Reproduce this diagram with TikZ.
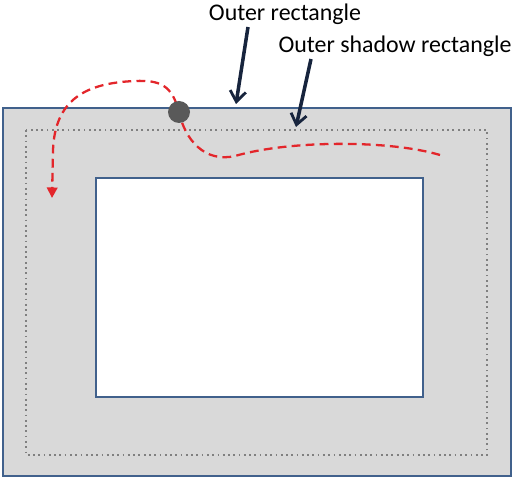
\documentclass[tikz,border=0pt]{standalone}
\usepackage{fontspec}
\setmainfont{Carlito}
\usepackage{tikz}
\usepackage{xcolor}
\usetikzlibrary{arrows.meta}
\definecolor{frame-blue}{HTML}{41618C}
\definecolor{area-gray}{HTML}{D9D9D9}
\definecolor{arrow-navy}{HTML}{17243D}
\definecolor{path-red}{HTML}{E3262B}
\tikzset{
    outer-rect/.style = {draw=frame-blue, fill=area-gray, line width=1.2pt},
    inner-rect/.style = {draw=frame-blue, fill=white, line width=1.2pt},
    shadow-rect/.style = {draw=gray, dotted, line width=1pt},
    label-text/.style = {font=\fontsize{13.6}{15}\selectfont, inner sep=1pt},
    pointer-arrow/.style = {draw=arrow-navy, line width=2pt, -{Straight Barb[length=6pt, width=9pt, line width=1.6pt]}},
    walk-path/.style = {draw=path-red, dash pattern=on 5pt off 3pt, line width=1.3pt, -{Triangle[length=6pt, width=6pt]}},
}

\begin{document}
\begin{tikzpicture}[x={(0.02cm,0)}, y={(0,-0.02cm)}]
\useasboundingbox (0,0) rectangle (514,479);
\draw[outer-rect] (3,108) rectangle (511,476);
\draw[shadow-rect] (26,130) rectangle (487,455);
\draw[inner-rect] (96,178) rectangle (423,397);
\coordinate (outer-top) at (236,104);
\coordinate (shadow-top) at (296,127);
\node[label-text] (outer-label) at (285,14) {Outer rectangle};
\node[label-text] (shadow-label) at (395,46) {Outer shadow rectangle};
\draw[pointer-arrow] (248,27) -- (outer-top);
\draw[pointer-arrow] (311,59) -- (shadow-top);
\coordinate (walk-start) at (440,155);
\coordinate (walk-end) at (52,198);
\draw[walk-path] (walk-start) .. controls (390,140) and (290,140) .. (235,156)
    .. controls (205,163) and (185,140) .. (179,112)
    .. controls (172,85) and (160,80) .. (135,81)
    .. controls (85,83) and (55,100) .. (53,150) -- (walk-end);
\node[circle, fill=black!65, minimum size=22*0.02cm, inner sep=0pt] (start-dot) at (179,112) {};
\end{tikzpicture}
\end{document}
